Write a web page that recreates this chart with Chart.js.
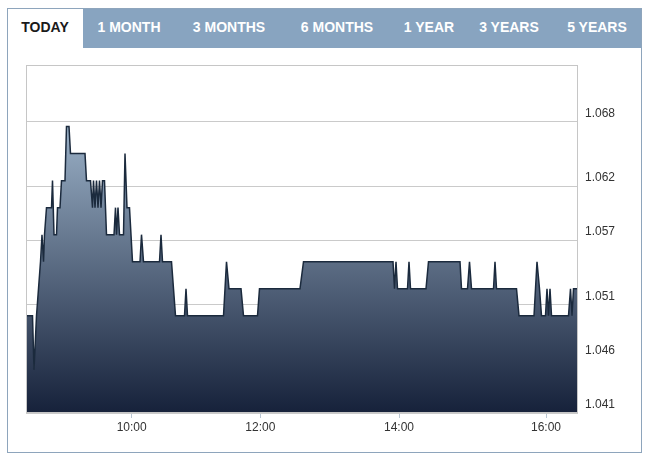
<!DOCTYPE html>
<html>
<head>
<meta charset="utf-8">
<script src="https://cdn.jsdelivr.net/npm/chart.js@4"></script>
<style>
  html, body { margin: 0; padding: 0; background: #fff; }
  body { width: 650px; height: 462px; position: relative; overflow: hidden;
         font-family: "Liberation Sans", Arial, sans-serif; }
  #frame { position: absolute; left: 7px; top: 8px; width: 633px; height: 443px;
           border: 1px solid #8ea5bc; box-sizing: content-box; }
  #tabbar { position: absolute; left: 75px; top: 0; right: 0; height: 39px; background: #88a4c0; }
  .tab { position: absolute; top: 0; height: 39px; line-height: 39px; text-align: center;
         font-weight: bold; font-size: 14px; color: #fff; }
  .tab.active { color: #1a1a1a; }
  #chart { position: absolute; left: 0; top: 0; }
</style>
</head>
<body>
<div id="frame"><div id="tabbar"></div></div>
<div id="tabs"></div>
<canvas id="chart" width="650" height="462"></canvas>
<script>
// range tabs
const tabNames   = ['TODAY', '1 MONTH', '3 MONTHS', '6 MONTHS', '1 YEAR', '3 YEARS', '5 YEARS'];
const tabCenters = [45, 129, 229, 337, 429, 509, 597];

// x = quote sequence number over the session, y = price
const quoteSeq = [0, 6, 7.5, 10, 14, 15.5, 17, 18, 20, 25, 26, 27.5, 30, 31, 33.5, 35, 38.5, 40, 42.5, 44,
  58.5, 60, 64, 66, 67, 68.5, 70, 71.5, 73, 74.5, 76, 78, 80, 87.5, 89, 90, 91.5, 93, 97, 98.5,
  100.5, 103, 106, 113.5, 115, 117, 133, 134.5, 136, 145, 147, 149, 158, 159.5, 161, 197, 200, 202.5, 214.5, 217,
  231, 233, 273.5, 277, 366.5, 368, 369.5, 371, 381, 382.5, 384, 399.5, 402, 433.5, 435, 441, 443, 445, 467, 468.5,
  470, 490, 492.5, 507.5, 510.5, 513, 515, 519, 520.5, 522, 523.5, 525, 542, 544, 545.5, 547, 551.5];
const price = [1.050, 1.050, 1.045, 1.050, 1.055, 1.0575, 1.055, 1.0575, 1.060, 1.060, 1.0625, 1.0575, 1.0575, 1.060, 1.060, 1.0625, 1.0625, 1.0675, 1.0675, 1.065,
  1.065, 1.0625, 1.0625, 1.060, 1.0625, 1.060, 1.0625, 1.060, 1.0625, 1.060, 1.0625, 1.0625, 1.0575, 1.0575, 1.060, 1.0575, 1.060, 1.0575, 1.0575, 1.065,
  1.060, 1.060, 1.055, 1.055, 1.0575, 1.055, 1.055, 1.0575, 1.055, 1.055, 1.0525, 1.050, 1.050, 1.0525, 1.050, 1.050, 1.055, 1.0525, 1.0525, 1.050,
  1.050, 1.0525, 1.0525, 1.055, 1.055, 1.0525, 1.055, 1.0525, 1.0525, 1.055, 1.0525, 1.0525, 1.055, 1.055, 1.0525, 1.0525, 1.055, 1.0525, 1.0525, 1.055,
  1.0525, 1.0525, 1.050, 1.050, 1.055, 1.0525, 1.050, 1.050, 1.0525, 1.050, 1.0525, 1.050, 1.050, 1.0525, 1.050, 1.0525, 1.0525];

const xTickPos    = [105.2, 233.8, 372.5, 519.5];
const xTickLabels = ['10:00', '12:00', '14:00', '16:00'];
const yTicks      = [1.041, 1.046, 1.051, 1.057, 1.062, 1.068];

const tabsEl = document.getElementById('tabs');
tabNames.forEach((name, i) => {
  const d = document.createElement('div');
  d.className = 'tab' + (i === 0 ? ' active' : '');
  d.textContent = name;
  d.style.left = (tabCenters[i] - 50) + 'px';
  d.style.width = '100px';
  d.style.top = '8px';
  tabsEl.appendChild(d);
});

const plotFrame = {
  id: 'plotFrame',
  afterDatasetsDraw(chart) {
    const { ctx, chartArea: a } = chart;
    ctx.save();
    ctx.strokeStyle = '#c6c6c6';
    ctx.lineWidth = 1;
    ctx.strokeRect(a.left + 0.5, a.top + 0.5, a.right - a.left - 1, a.bottom - a.top - 1);
    ctx.restore();
  }
};

new Chart(document.getElementById('chart'), {
  type: 'line',
  data: {
    datasets: [{
      data: quoteSeq.map((x, i) => ({ x, y: price[i] })),
      borderColor: '#1b2a3d',
      borderWidth: 1.5,
      pointRadius: 0,
      tension: 0,
      fill: 'start',
      backgroundColor: ctx => {
        const a = ctx.chart.chartArea;
        if (!a) return '#56697f';
        const g = ctx.chart.ctx.createLinearGradient(0, a.top, 0, a.bottom);
        g.addColorStop(0, '#b7cfe5');
        g.addColorStop(1, '#16213a');
        return g;
      }
    }]
  },
  options: {
    responsive: false,
    animation: false,
    layout: { padding: { left: 26, top: 65, right: 0, bottom: 0 } },
    plugins: { legend: { display: false }, tooltip: { enabled: false } },
    scales: {
      x: {
        type: 'linear', min: -0.5, max: 551.5,
        afterFit: s => { s.height = 49; },
        afterBuildTicks: s => { s.ticks = xTickPos.map(v => ({ value: v })); },
        grid: { drawOnChartArea: false, drawTicks: true, tickLength: 5, color: '#b9c6d3' },
        border: { display: false },
        ticks: {
          autoSkip: false, maxRotation: 0, padding: 2, color: '#333',
          font: { family: '"Liberation Sans", Arial, sans-serif', size: 12 },
          callback: v => xTickLabels[xTickPos.indexOf(v)]
        }
      },
      y: {
        position: 'right', min: 1.041, max: 1.0732,
        afterFit: s => { s.width = 72; },
        afterBuildTicks: s => { s.ticks = yTicks.map(v => ({ value: v })); },
        grid: { color: '#cacaca', drawTicks: false },
        border: { display: false },
        ticks: {
          padding: 7, labelOffset: -8, color: '#333',
          font: { family: '"Liberation Sans", Arial, sans-serif', size: 12 },
          callback: v => v.toFixed(3)
        }
      }
    }
  },
  plugins: [plotFrame]
});
</script>
</body>
</html>
